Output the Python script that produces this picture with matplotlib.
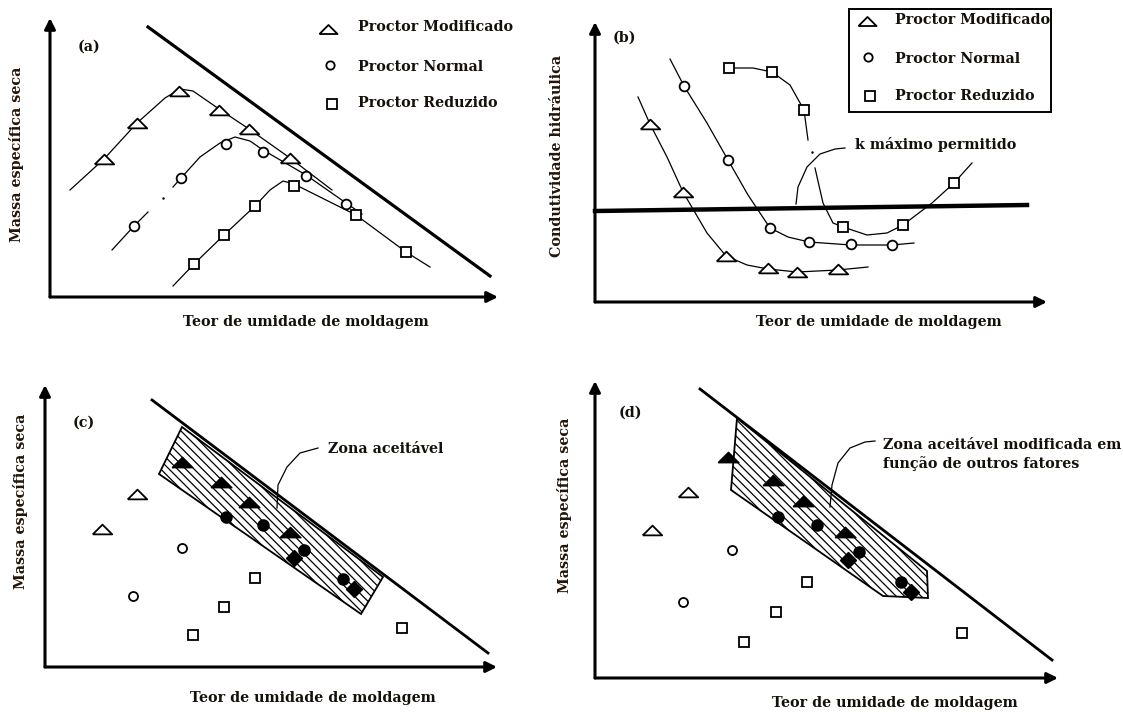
import numpy as np
import matplotlib
matplotlib.use('Agg')
import matplotlib.pyplot as plt
from matplotlib.patches import Polygon, Rectangle

plt.rcParams['font.family'] = ['DejaVu Serif']
plt.rcParams['hatch.linewidth'] = 0.9

W, H = 1123, 715

# ---------------- dados (unidades arbitrarias, origem = cruzamento dos eixos)

# (a) massa especifica seca x teor de umidade
a_mod_x = [54, 87, 129, 169, 199, 240]
a_mod_y = [138, 174, 206, 187, 168, 139]
a_mod_cx = [20, 54, 87, 115, 130, 143, 169, 199, 240, 282]
a_mod_cy = [107, 138, 174, 199, 208, 206, 188, 168, 139, 107]

a_nor_x = [84, 131, 176, 213, 256, 296]
a_nor_y = [71, 119, 153, 145, 121, 93]
a_nor_cx1 = [62, 84, 98]
a_nor_cy1 = [47, 71, 85]
a_nor_cx2 = [123, 131, 150, 170, 185, 200, 213, 256, 296, 312]
a_nor_cy2 = [110, 119, 140, 154, 160, 156, 147, 122, 94, 83]

a_red_x = [144, 174, 205, 244, 306, 356]
a_red_y = [33, 62, 91, 111, 82, 45]
a_red_cx = [123, 144, 174, 205, 220, 233, 244, 270, 306, 356, 380]
a_red_cy = [11, 33, 62, 91, 107, 116, 113, 100, 82, 45, 30]

a_lim_x = [98, 440]
a_lim_y = [270, 21]

# (b) condutividade hidraulica x teor de umidade
b_mod_x = [55, 88, 131, 173, 202, 243]
b_mod_y = [178, 110, 46, 34, 30, 33]
b_mod_cx = [43, 55, 72, 88, 112, 131, 152, 173, 202, 243, 273]
b_mod_cy = [205, 178, 145, 110, 69, 46, 37, 33, 30, 32, 35]

b_nor_x = [89, 133, 175, 214, 256, 297]
b_nor_y = [216, 142, 74, 60, 58, 57]
b_nor_cx = [75, 89, 112, 133, 153, 175, 193, 214, 256, 297, 319]
b_nor_cy = [243, 216, 179, 142, 107, 74, 65, 60, 57, 57, 59]

b_red_x = [134, 177, 209, 248, 308, 359]
b_red_y = [234, 230, 192, 75, 77, 119]
b_red_cx1 = [134, 158, 177, 195, 209, 213]
b_red_cy1 = [234, 234, 230, 217, 192, 162]
b_red_cx2 = [220, 228, 238, 248, 272, 292, 308, 337, 359, 377]
b_red_cy2 = [134, 99, 79, 75, 67, 69, 77, 99, 119, 139]

b_kmax_x = [0, 432]
b_kmax_y = [91, 97]
b_seta_x = [201, 203, 212, 225, 240, 250]
b_seta_y = [98, 115, 135, 148, 153, 154]

# (c) zona aceitavel
c_lim_x = [107, 443]
c_lim_y = [267, 14]
c_zona_x = [137, 114, 316, 338]
c_zona_y = [240, 193, 53, 90]
c_tri_x = [137, 176, 204, 245]
c_tri_y = [205, 185, 165, 135]
c_cir_x = [181, 218, 259, 298]
c_cir_y = [150, 142, 117, 88]
c_qua_x = [249, 309]
c_qua_y = [109, 78]
c_tri_ab_x = [57, 92]
c_tri_ab_y = [138, 173]
c_cir_ab_x = [137, 88]
c_cir_ab_y = [119, 71]
c_qua_ab_x = [210, 179, 148, 357]
c_qua_ab_y = [89, 60, 32, 39]
c_seta_x = [232, 233, 242, 255, 273]
c_seta_y = [159, 182, 200, 214, 219]

# (d) zona aceitavel modificada
d_lim_x = [105, 457]
d_lim_y = [289, 18]
d_zona_x = [142, 136, 288, 333, 332]
d_zona_y = [260, 188, 82, 80, 107]
d_tri_x = [133, 178, 208, 250]
d_tri_y = [221, 198, 177, 146]
d_cir_x = [183, 222, 264, 306]
d_cir_y = [161, 153, 126, 96]
d_qua_x = [253, 316]
d_qua_y = [118, 86]
d_tri_ab_x = [57, 93]
d_tri_ab_y = [148, 186]
d_cir_ab_x = [137, 88]
d_cir_ab_y = [128, 76]
d_qua_ab_x = [212, 181, 149, 367]
d_qua_ab_y = [96, 66, 36, 45]
d_seta_x = [235, 237, 243, 255, 270, 280]
d_seta_y = [171, 193, 215, 230, 236, 237]

legenda = ['Proctor Modificado', 'Proctor Normal', 'Proctor Reduzido']
txt_x = 'Teor de umidade de moldagem'

# ---------------- estilo
TRI = [(-1, -0.5), (1, -0.5), (0, 0.5), (-1, -0.5)]
cor_txt = '#15110a'
cor_ylab = '#231608'
fs = 10.3
hachura = '\\' * 4

fig = plt.figure(figsize=(W / 100, H / 100), dpi=100)
fig.patch.set_facecolor('white')


def painel(x0, y0, xmax, ymax):
    ax = fig.add_axes([x0 / W, 1 - y0 / H, xmax / W, ymax / H])
    ax.set_xlim(0, xmax)
    ax.set_ylim(0, ymax)
    ax.axis('off')
    for tip in [(xmax, 0), (0, ymax)]:
        ax.annotate('', xy=tip, xytext=(0, 0), annotation_clip=False,
                    arrowprops=dict(arrowstyle='-|>', lw=2.2, color='black',
                                    mutation_scale=16, shrinkA=0, shrinkB=0))
    return ax


def aberto(ax, x, y, m, ms):
    ax.plot(x, y, ls='none', marker=m, ms=ms, mfc='white', mec='black',
            mew=1.3, clip_on=False, zorder=5)


def cheio(ax, x, y, m, ms):
    ax.plot(x, y, ls='none', marker=m, ms=ms, mfc='black', mec='black',
            mew=1, clip_on=False, zorder=5)


def curva(ax, x, y):
    ax.plot(x, y, color='black', lw=0.9, clip_on=False, zorder=3)


def texto(ax, x, y, s, **kw):
    ax.text(x, y, s, fontweight='bold', fontsize=fs, color=cor_txt,
            va='center', clip_on=False, **kw)


def rotulo_y(ax, x, y, s):
    ax.text(x, y, s, rotation=90, fontweight='bold', fontsize=fs,
            color=cor_ylab, ha='center', va='center')


# ---------------- (a)
ax = painel(50, 297, 448, 279)
ax.plot(a_lim_x, a_lim_y, color='black', lw=2.3, clip_on=False)
curva(ax, a_mod_cx, a_mod_cy)
curva(ax, a_nor_cx1, a_nor_cy1)
curva(ax, a_nor_cx2, a_nor_cy2)
ax.plot([113], [99], 'k.', ms=1.5)
curva(ax, a_red_cx, a_red_cy)
aberto(ax, a_mod_x, a_mod_y, TRI, 14)
aberto(ax, a_nor_x, a_nor_y, 'o', 7)
aberto(ax, a_red_x, a_red_y, 's', 7)
aberto(ax, [278], [268], TRI, 13)
aberto(ax, [280], [232], 'o', 6)
aberto(ax, [282], [193], 's', 6.5)
for yy, s in zip([270, 230, 194], legenda):
    texto(ax, 308, yy, s, ha='left')
texto(ax, 28, 250, '(a)', ha='left')
texto(ax, 256, -25, txt_x, ha='center')
rotulo_y(ax, -33, 143, 'Massa específica seca')

# ---------------- (b)
ax = painel(595, 302, 452, 280)
ax.plot(b_kmax_x, b_kmax_y, color='black', lw=3.2, clip_on=False)
curva(ax, b_mod_cx, b_mod_cy)
curva(ax, b_nor_cx, b_nor_cy)
curva(ax, b_red_cx1, b_red_cy1)
curva(ax, b_red_cx2, b_red_cy2)
ax.plot([217], [150], 'k.', ms=1.5)
curva(ax, b_seta_x, b_seta_y)
aberto(ax, b_mod_x, b_mod_y, TRI, 14)
aberto(ax, b_nor_x, b_nor_y, 'o', 7)
aberto(ax, b_red_x, b_red_y, 's', 7)
ax.add_patch(Rectangle((254, 190), 202, 103, fill=False, lw=1.4,
                       ec='black', clip_on=False))
aberto(ax, [272], [281], TRI, 13)
aberto(ax, [273], [245], 'o', 6)
aberto(ax, [275], [206], 's', 6.5)
for yy, s in zip([282, 243, 206], legenda):
    texto(ax, 300, yy, s, ha='left')
texto(ax, 260, 157, 'k máximo permitido', ha='left')
texto(ax, 18, 264, '(b)', ha='left')
texto(ax, 284, -20, txt_x, ha='center')
rotulo_y(ax, -38, 146, 'Condutividade hidráulica')

# ---------------- (c)
ax = painel(45, 667, 452, 282)
ax.plot(c_lim_x, c_lim_y, color='black', lw=2, clip_on=False)
ax.add_patch(Polygon(np.column_stack([c_zona_x, c_zona_y]), closed=True,
                     fill=False, hatch=hachura, ec='black', lw=1.3,
                     clip_on=False))
curva(ax, c_seta_x, c_seta_y)
cheio(ax, c_tri_x, c_tri_y, TRI, 15)
cheio(ax, c_cir_x, c_cir_y, 'o', 8)
cheio(ax, c_qua_x, c_qua_y, 'D', 8)
aberto(ax, c_tri_ab_x, c_tri_ab_y, TRI, 14)
aberto(ax, c_cir_ab_x, c_cir_ab_y, 'o', 6.5)
aberto(ax, c_qua_ab_x, c_qua_ab_y, 's', 6.5)
texto(ax, 283, 218, 'Zona aceitável', ha='left')
texto(ax, 28, 244, '(c)', ha='left')
texto(ax, 268, -31, txt_x, ha='center')
rotulo_y(ax, -25, 166, 'Massa específica seca')

# ---------------- (d)
ax = painel(595, 678, 463, 297)
ax.plot(d_lim_x, d_lim_y, color='black', lw=2, clip_on=False)
ax.add_patch(Polygon(np.column_stack([d_zona_x, d_zona_y]), closed=True,
                     fill=False, hatch=hachura, ec='black', lw=1.3,
                     clip_on=False))
curva(ax, d_seta_x, d_seta_y)
cheio(ax, d_tri_x, d_tri_y, TRI, 15)
cheio(ax, d_cir_x, d_cir_y, 'o', 8)
cheio(ax, d_qua_x, d_qua_y, 'D', 8)
aberto(ax, d_tri_ab_x, d_tri_ab_y, TRI, 14)
aberto(ax, d_cir_ab_x, d_cir_ab_y, 'o', 6.5)
aberto(ax, d_qua_ab_x, d_qua_ab_y, 's', 6.5)
texto(ax, 288, 233, 'Zona aceitável modificada em', ha='left')
texto(ax, 288, 214, 'função de outros fatores', ha='left')
texto(ax, 24, 265, '(d)', ha='left')
texto(ax, 300, -25, txt_x, ha='center')
rotulo_y(ax, -30, 173, 'Massa específica seca')

plt.savefig('out.png', dpi=100, facecolor='white')
